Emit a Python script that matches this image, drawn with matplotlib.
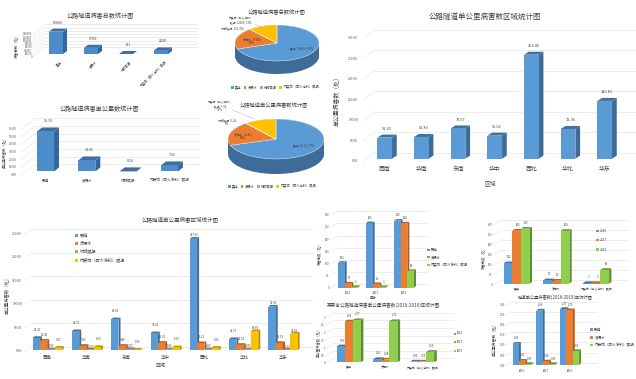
import matplotlib
matplotlib.use("Agg")
import matplotlib.pyplot as plt
from matplotlib.patches import Polygon, Patch
from matplotlib.transforms import Affine2D, IdentityTransform
from matplotlib.lines import Line2D
import numpy as np

plt.rcParams['font.family'] = ['Noto Sans CJK SC', 'DejaVu Sans']
W, H = 636, 379
fig = plt.figure(figsize=(W/100, H/100), dpi=100, facecolor='white')

# ---------- data ----------
disease_cats = ['裂缝', '渗漏水', '衬砌破损', '内装饰（防火涂料）破损']
disease_short = ['裂缝', '渗漏水', '内装饰（防火涂料）破损']
total_counts = [138000, 37900, 131, 22250]
per_km = [52.19, 14.41, 0.14, 7.92]
total_pct = ['69%', '19%', '0%', '11%']
per_km_pct = ['70%', '19%', '0%', '11%']
regions = ['西南', '华南', '东南', '华中', '西北', '华北', '华东']
region_total = [51.32, 52.83, 73.57, 56.02, 253.45, 72.35, 140.81]
reg_crack = [26.26, 40.75, 66.05, 36.22, 237.62, 23.73, 92.96]
reg_leak = [20.45, 9.35, 9.46, 15.91, 15.11, 11.53, 15.52]
reg_lining = [1.81, 1.25, 2.57, 1.86, 2.05, 1.85, 1.12]
reg_deco = [5.47, 6.83, 1.05, 6.33, 5.26, 40.65, 35.65]
years = ['2016', '2017', '2019']
count_crack = [102, 265, 275]
count_leak = [17, 15, 264]
count_deco = [3, 3, 69]
km_crack = [1.05, 2.69, 2.77]
km_leak = [0.21, 0.18, 2.71]
km_deco = [0.05, 0.05, 0.69]

# ---------- styles ----------
BLUE = ('#5B9BD5', '#3D6C98', '#41719C')
DEEP = ('#4C8CCB', '#35689A', '#3F6F9F')
ORANGE = ('#ED7D31', '#AE5A21', '#B5622A')
GRAY = ('#A5A5A5', '#7B7B7B', '#808080')
YELLOW = ('#FFC000', '#BC8C00', '#C49500')
GREEN = ('#8FCF4B', '#5F8F35', '#66993A')
GRID = '#EAEAEA'
TXT = '#404040'


def ftxt(x, y, s, fs, **kw):
    kw.setdefault('ha', 'center')
    kw.setdefault('va', 'center')
    kw.setdefault('color', TXT)
    return fig.text(x/W, 1-y/H, s, fontsize=fs, **kw)


def chart(L, R, y0, ytop, ymax, ticks, c0, s, w, depth, bdy, wall, series, cats,
          tick_x, tick_fs, lab_fs, cat_y, cat_fs, tickfmt, labfmt, cat_rot=0, offs=None, grid=True):
    """series: list of (values, colour triple); one cluster per category."""
    ax = fig.add_axes([L/W, 1-y0/H, (R-L)/W, (y0-ytop)/H])
    ax.set_xlim((L-c0)/s, (R-c0)/s)
    ax.set_ylim(0, ymax)
    ax.axis('off')
    n = len(series)
    back = ax.transData + Affine2D().translate(*wall)
    if grid:
        for t in ticks:
            ax.plot([ax.get_xlim()[0], (R-c0)/s], [t, t], color=GRID, lw=0.6,
                    transform=back, clip_on=False, zorder=1)
            p = ax.transData.transform((ax.get_xlim()[0], t))
            ax.plot([p[0], p[0]+wall[0]], [p[1], p[1]+wall[1]], color=GRID, lw=0.5,
                    transform=IdentityTransform(), clip_on=False, zorder=1)
    for t in ticks:
        py = ax.transData.transform((0, t))[1]
        ftxt(tick_x, H-py, tickfmt.format(t), tick_fs, ha='right', color='#595959')
    base = ax.transData + Affine2D().translate(0, bdy)
    wd = w/s
    z = 3
    for c in range(len(cats)):
        for k, (vals, cols) in enumerate(series):
            x = c + (k-(n-1)/2)*wd
            v = vals[c]
            ax.bar(x, v, wd, color=cols[0], transform=base, clip_on=False, zorder=z+0.2)
            a = ax.transData.transform((x-wd/2, v))+[0, bdy]
            b = ax.transData.transform((x+wd/2, v))+[0, bdy]
            f = ax.transData.transform((x+wd/2, 0))+[0, bdy]
            dx, dy = depth
            ax.add_patch(Polygon([b, f, f+[dx, dy], b+[dx, dy]], closed=True, fc=cols[1], ec='none',
                                 transform=IdentityTransform(), clip_on=False, zorder=z))
            ax.add_patch(Polygon([a, b, b+[dx, dy], a+[dx, dy]], closed=True, fc=cols[2], ec='none',
                                 transform=IdentityTransform(), clip_on=False, zorder=z+0.1))
            off = depth[1]+bdy+1 if offs is None else offs(k, v)
            ax.annotate(labfmt.format(v), (x, v), xytext=(dx/2, off+bdy), textcoords='offset pixels',
                        ha='center', va='bottom', fontsize=lab_fs, color='#404040', zorder=50,
                        annotation_clip=False)
            z += 1
        px = ax.transData.transform((c, 0))[0]
        if cat_rot:
            ftxt(px+4, cat_y, cats[c], cat_fs, rotation=cat_rot, ha='right', va='top',
                 rotation_mode='anchor')
        else:
            ftxt(px, cat_y, cats[c], cat_fs)
    return ax


def pie3d(cx, cy, rx, ry, d, values, labels):
    ax = fig.add_axes([(cx-rx)/W, 1-(cy+ry+d)/H, 2*rx/W, (2*ry+d)/H])
    dd = d/ry
    colors = [BLUE[0], ORANGE[0], GRAY[0], YELLOW[0]]
    for i in range(12):
        shade = i/11
        ax.pie(values, startangle=90, counterclock=False, center=(0, -dd*(1-shade)),
               colors=['#3D6C98']*4, radius=1)
    ax.pie(values, startangle=90, counterclock=False, colors=colors, radius=1,
           wedgeprops={'edgecolor': 'white', 'linewidth': 0.3})
    ax.set_aspect('auto')
    ax.set_xlim(-1, 1)
    ax.set_ylim(-1-dd, 1)
    ax.axis('off')
    for (x, y, s) in labels:
        ftxt(x, y, s, 2.0, linespacing=1.05)


def legend(x, y, labels, colors, fs, ncol=1, spacing=0.5, colsp=0.8):
    hs = [Patch(fc=c) for c in colors]
    fig.legend(hs, labels, loc='upper left', bbox_to_anchor=(x/W, 1-y/H), frameon=False, fontsize=fs,
               ncol=ncol, labelspacing=spacing, columnspacing=colsp, handlelength=0.8, handleheight=0.7,
               handletextpad=0.4, borderpad=0, borderaxespad=0, labelcolor=TXT)


# ---------- chart 1: total counts ----------
ftxt(100, 16, '公路隧道病害总数统计图', 4.4)
chart(33, 185, 57, 34.3, 140000, list(range(0, 140001, 20000)), 56, 35, 14, (4, 3), 3, (12, 10),
      [(total_counts, DEEP)], disease_cats, 32, 2.0, 2.2, 60, 2.3, '{:d}', '{:d}', cat_rot=45)
ftxt(17, 45, '病害总数（处）', 2.6, rotation=90)

# ---------- chart 2: per km ----------
ftxt(100, 109, '公路隧道病害单公里数统计图', 4.4)
chart(21, 185, 175, 129, 60, list(range(0, 61, 10)), 45.5, 41.3, 17, (5, 4), 3.5, (14, 10.5),
      [(per_km, DEEP)], disease_cats, 17, 2.3, 2.6, 180.5, 2.6, '{:.2f}', '{:.2f}')
ftxt(5, 152, '单公里病害数（处）', 2.6, rotation=90)

# ---------- pies ----------
ftxt(277, 12.5, '公路隧道病害总数统计图', 3.8)
pie3d(277, 43, 42, 18, 13, total_counts, [
    (302, 48, f'裂缝, {total_counts[0]}, {total_pct[0]}'),
    (252, 41, f'渗漏水, {total_counts[1]},\n{total_pct[1]}'),
    (232, 28, f'衬砌破损, {total_counts[2]}, {total_pct[2]}'),
    (241, 20, f'内装饰（防火涂料）\n破损, {total_counts[3]}, {total_pct[3]}')])
fig.add_artist(Line2D([255/W, 262/W], [1-24/H, 1-28/H], color='#A6A6A6', lw=0.3))
legend(231, 85.5, disease_cats, [BLUE[0], ORANGE[0], GRAY[0], YELLOW[0]], 2.3, ncol=4)

ftxt(274, 105.5, '公路隧道单公里病害数统计图', 3.8)
pie3d(276, 139, 48, 20, 15, per_km, [
    (303, 145, f'裂缝, {per_km[0]}, {per_km_pct[0]}'),
    (243, 136, f'渗漏水, {per_km[1]},\n{per_km_pct[1]}'),
    (227, 122, f'衬砌破损, {per_km[2]},\n{per_km_pct[2]}'),
    (220, 106, f'内装饰（防火涂料）\n破损, {per_km[3]},\n{per_km_pct[3]}')])
fig.add_artist(Line2D([232/W, 255/W], [1-110/H, 1-119/H], color='#A6A6A6', lw=0.3))
legend(228, 184.5, disease_cats, [BLUE[0], ORANGE[0], GRAY[0], YELLOW[0]], 2.3, ncol=4)

# ---------- large regional ----------
ftxt(485, 17, '公路隧道单公里病害数区域统计图', 5.4)
chart(363.3, 631.7, 161.3, 38.3, 300, list(range(0, 301, 50)), 384.7, 36.67, 14.67, (4.7, 3), 2.67, (11.7, 8.7),
      [(region_total, BLUE)], regions, 358, 2.4, 2.8, 169.5, 4.2, '{:.2f}', '{:.2f}')
ftxt(490.7, 183, '区域', 4.2)
ftxt(337, 100, '单公里病害数（处）', 4.2, rotation=90)

# ---------- bottom regional clustered ----------
ftxt(180, 219, '公路隧道单公里病害区域统计图', 4.0)


def offs_region(k, v):
    if k == 0:
        return 6 if v < 70 else 2
    if k == 1:
        return 4
    if k == 2:
        return 1
    return 6 if v < 20 else 1


chart(25, 305, 351, 233.7, 250, list(range(0, 251, 50)), 47.2, 39.3, 7.3, (2, 1.7), 0.7, (6.7, 4.3),
      [(reg_crack, BLUE), (reg_leak, ORANGE), (reg_lining, GRAY), (reg_deco, YELLOW)], regions,
      22, 2.4, 2.1, 357.7, 3.2, '{:.2f}', '{:.2f}', offs=offs_region)
ftxt(160, 365.5, '区域', 3.6)
ftxt(7, 294, '单公里病害数（处）', 3.2, rotation=90)
legend(74.5, 233.5, disease_cats, [BLUE[0], ORANGE[0], GRAY[0], YELLOW[0]], 3.0, spacing=0.85)

# ---------- count by year ----------
chart(330, 421, 288.3, 215.3, 300, list(range(0, 301, 50)), 348, 28, 6.67, (2, 1.5), 0.7, (6.7, 4),
      [(count_crack, BLUE), (count_leak, ORANGE), (count_deco, GREEN)], years,
      329, 2.0, 2.0, 293, 2.0, '{:d}', '{:d}')
ftxt(373, 298, '年份', 2.4)
ftxt(319.5, 253, '病害总数（处）', 2.4, rotation=90)
legend(427, 248, disease_short, [BLUE[0], ORANGE[0], GREEN[0]], 2.4, spacing=1.0)

# ---------- count by disease ----------
chart(493.3, 620, 285, 225, 300, list(range(0, 301, 50)), 516.7, 39.7, 8.67, (2.3, 1.7), 1.3, (8.3, 5.3),
      [([count_crack[0], count_leak[0], count_deco[0]], BLUE),
       ([count_crack[1], count_leak[1], count_deco[1]], ORANGE),
       ([count_crack[2], count_leak[2], count_deco[2]], GREEN)], disease_short,
      492, 2.0, 2.0, 289.3, 2.1, '{:d}', '{:d}')
ftxt(483.5, 257, '病害总数（处）', 2.4, rotation=90)
legend(596, 229, years, [BLUE[0], ORANGE[0], GREEN[0]], 2.4, spacing=1.6)

# ---------- per km by disease ----------
ftxt(383, 305.7, '某某省公路隧道病害单公里病害数(2016-2019)年统计图', 3.3)
chart(326, 446, 363.3, 317.7, 3, [0, 0.5, 1, 1.5, 2, 2.5, 3], 348.7, 36.7, 8, (2.7, 1.7), 1, (8, 5),
      [([km_crack[0], km_leak[0], km_deco[0]], BLUE),
       ([km_crack[1], km_leak[1], km_deco[1]], ORANGE),
       ([km_crack[2], km_leak[2], km_deco[2]], GREEN)], disease_short,
      325, 2.0, 2.0, 367.7, 2.1, '{:g}', '{:.2f}')
ftxt(318.5, 342, '单公里病害数（处）', 2.4, rotation=90)
legend(454, 331.5, years, [BLUE[0], ORANGE[0], GREEN[0]], 2.0, spacing=1.7)

# ---------- per km by year ----------
ftxt(555, 297.7, '隧道单公里病害数(2016-2019)年统计图', 3.1)
chart(506, 592, 365.7, 305, 3, [0, 0.5, 1, 1.5, 2, 2.5, 3], 522, 23.8, 6.3, (2, 1.7), 0.7, (5, 3),
      [(km_crack, BLUE), (km_leak, ORANGE), (km_deco, GREEN)], years,
      505, 2.0, 2.0, 371, 2.0, '{:.2f}', '{:.2f}')
ftxt(495, 339, '单公里病害数（处）', 2.8, rotation=90)
legend(590, 328, disease_short, [BLUE[0], ORANGE[0], GREEN[0]], 2.6, spacing=1.0)

fig.savefig('out.png', dpi=100, facecolor='white')
